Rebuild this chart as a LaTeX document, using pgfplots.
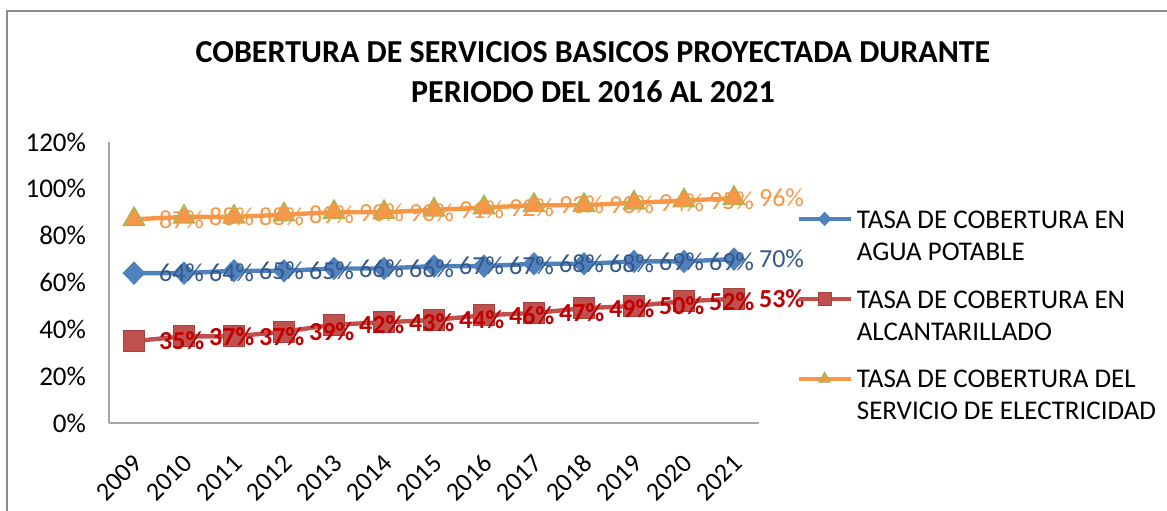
\documentclass[border=0pt]{standalone}
\usepackage{pgfplots}
\pgfplotsset{compat=1.18}
\usepackage{fontspec}
\setmainfont{Carlito}
\definecolor{bline}{HTML}{4F81BD}
\definecolor{blab}{HTML}{34578A}
\definecolor{rline}{HTML}{C0504D}
\definecolor{rlab}{HTML}{C00000}
\definecolor{oline}{HTML}{F79646}
\definecolor{gedge}{HTML}{9BBB59}
\definecolor{frmcol}{HTML}{8C8C8C}
\definecolor{axl}{HTML}{A6A6A6}
\newcommand{\LE}[2]{\rule{0pt}{34.475pt}\smash{\raisebox{11.9pt}{\begin{tabular}[t]{@{}l@{}}#1\\#2\end{tabular}}}}
\pgfplotstableread{
x agua alc elec
0 64 35 87
1 64 37 88
2 65 37 88
3 65 39 89
4 66 42 90
5 66 43 90
6 67 44 91
7 67 46 92
8 68 47 93
9 68 49 93
10 69 50 94
11 69 52 95
12 70 53 96
}\datatab
\begin{document}
\begin{tikzpicture}
\begin{axis}[
  at={(54.5pt,43.5pt)}, anchor=south west,
  width=325pt, height=140.5pt, scale only axis,
  xmin=-0.5, xmax=12.5, ymin=0, ymax=120,
  xtick={0,...,12},
  xticklabels={2009,2010,2011,2012,2013,2014,2015,2016,2017,2018,2019,2020,2021},
  ytick={0,20,40,60,80,100,120},
  yticklabels={0\%,20\%,40\%,60\%,80\%,100\%,120\%},
  /pgf/number format/assume math mode=true,
  axis x line*=bottom, axis y line*=left,
  axis line style={-, color=axl, line width=0.7pt},
  major tick length=0pt,
  tick label style={font=\fontsize{13.5}{15}\selectfont, color=black},
  yticklabel style={xshift=-8pt},
  xticklabel style={rotate=45, anchor=east, yshift=-14pt, xshift=-8pt, font=\fontsize{13}{15}\selectfont},
  clip=false,
  point meta=y,
  legend style={draw=none, fill=none, at={(1.057,0.870)}, anchor=north west, inner sep=0pt,
    font=\fontsize{13.5}{16}\selectfont, row sep=0pt,
    cells={anchor=west, inner xsep=1pt, inner ysep=2pt}},
  legend cell align=left,
  legend image code/.code={\draw[#1, mark size=3.2pt, mark repeat=2, mark phase=2] plot coordinates {(0pt,0pt) (13pt,0pt) (26pt,0pt)};},
  lab/.style={draw=none, mark=none, forget plot,
    nodes near coords={\pgfmathprintnumber[fixed,precision=0]{\pgfplotspointmeta}\%},
    every node near coord/.style={anchor=west, xshift=9pt, font=\fontsize{13}{15}\selectfont#1}},
]
\addplot[color=bline, line width=2.2pt, mark=diamond*, mark size=5.5pt,
  mark options={fill=bline, draw=bline, line width=0.5pt, xscale=1.3}]
  table[x=x, y=agua] {\datatab};
\addlegendentry{\LE{TASA DE COBERTURA EN}{AGUA POTABLE}}
\addplot[color=rline, line width=2.2pt, mark=square*, mark size=5.3pt,
  mark options={fill=rline, draw=rline!85!black, line width=0.5pt}]
  table[x=x, y=alc] {\datatab};
\addlegendentry{\LE{TASA DE COBERTURA EN}{ALCANTARILLADO}}
\addplot[color=oline, line width=2.2pt, mark=triangle*, mark size=6.2pt,
  mark options={fill=oline, draw=gedge, line width=0.6pt}]
  table[x=x, y=elec] {\datatab};
\addlegendentry{\LE{TASA DE COBERTURA DEL}{SERVICIO DE ELECTRICIDAD}}
\addplot[lab={}, color=blab] table[x=x, y=agua] {\datatab};
\addplot[lab={\bfseries}, color=rlab] table[x=x, y=alc] {\datatab};
\addplot[lab={}, color=oline] table[x=x, y=elec] {\datatab};
\end{axis}
\pgfresetboundingbox
\useasboundingbox (0pt,0pt) rectangle (583.5pt,255pt);
\draw[color=frmcol, line width=1pt] (3.5pt,-5pt) -- (3.5pt,249.5pt) -- (590pt,249.5pt);
\node[font=\fontsize{16}{18}\selectfont\bfseries, anchor=base] at (296.5pt,223.5pt) {COBERTURA DE SERVICIOS BASICOS PROYECTADA DURANTE};
\node[font=\fontsize{16}{18}\selectfont\bfseries, anchor=base] at (296.5pt,204pt) {PERIODO DEL 2016 AL 2021};
\end{tikzpicture}
\end{document}
